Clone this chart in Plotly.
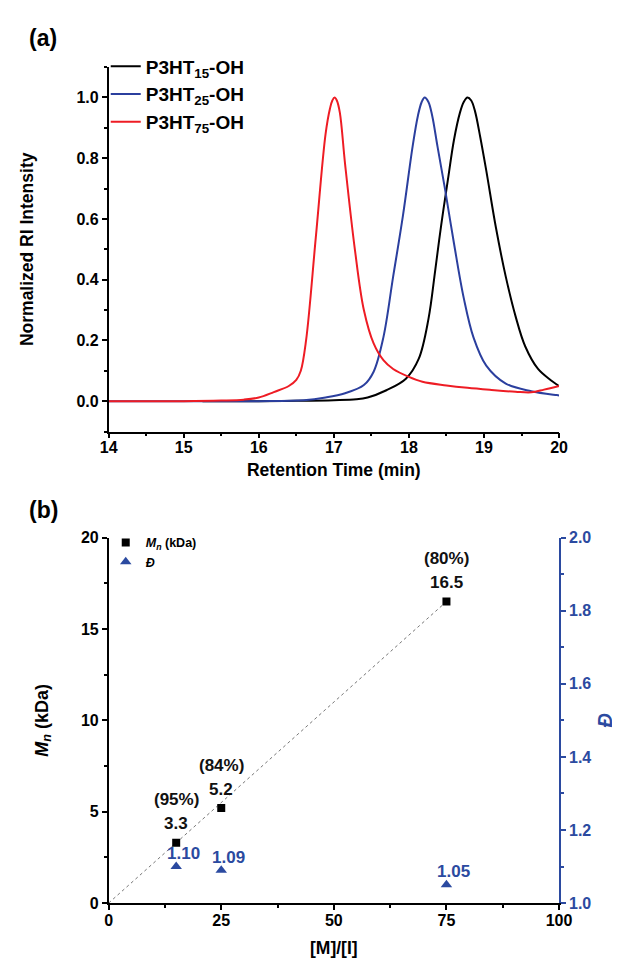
import plotly.graph_objects as go

# ---------------- Panel (a) data: GPC traces ----------------
t15 = [15.25, 16.0, 16.5, 17.0, 17.3, 17.45, 17.70, 17.96, 18.13, 18.26, 18.35, 18.43,
       18.52, 18.60, 18.68, 18.73, 18.78, 18.83, 18.88, 18.95, 19.03, 19.16, 19.29, 19.42,
       19.55, 19.72, 19.89, 19.97, 20.0]
i15 = [0.0, 0.0, 0.001, 0.003, 0.006, 0.012, 0.036, 0.074, 0.139, 0.27, 0.43, 0.58,
       0.73, 0.86, 0.95, 0.985, 1.0, 0.99, 0.955, 0.87, 0.76, 0.57, 0.41, 0.28,
       0.18, 0.106, 0.069, 0.055, 0.05]

t25 = [14.0, 15.0, 16.0, 16.6, 16.89, 17.15, 17.40, 17.53, 17.66, 17.79, 17.92, 18.05,
       18.12, 18.17, 18.21, 18.26, 18.31, 18.38, 18.48, 18.60, 18.73, 18.86, 19.03, 19.29,
       19.63, 19.97, 20.0]
i25 = [0.0, 0.0, 0.0, 0.003, 0.012, 0.026, 0.053, 0.097, 0.21, 0.41, 0.61, 0.84,
       0.94, 0.985, 1.0, 0.985, 0.94, 0.84, 0.70, 0.52, 0.34, 0.21, 0.117, 0.058,
       0.033, 0.02, 0.019]

t75 = [14.0, 15.0, 15.5, 15.8, 16.0, 16.2, 16.4, 16.5, 16.56, 16.63, 16.76, 16.89,
       16.95, 16.98, 17.01, 17.04, 17.08, 17.15, 17.28, 17.40, 17.53, 17.66, 17.79, 18.0,
       18.18, 18.5, 18.78, 19.1, 19.42, 19.63, 19.8, 20.0]
i75 = [0.0, 0.0, 0.002, 0.005, 0.012, 0.03, 0.05, 0.07, 0.1, 0.20, 0.54, 0.88,
       0.965, 0.99, 1.0, 0.99, 0.95, 0.78, 0.50, 0.30, 0.19, 0.135, 0.106, 0.08,
       0.064, 0.052, 0.044, 0.037, 0.031, 0.029, 0.038, 0.05]

names_a = ["<b>P3HT<sub>15</sub>-OH</b>", "<b>P3HT<sub>25</sub>-OH</b>", "<b>P3HT<sub>75</sub>-OH</b>"]
colors_a = ["#000000", "#2b3f9e", "#ee1c24"]

# axis ticks
xa_ticks = [14, 15, 16, 17, 18, 19, 20]
ya_ticks = [0.0, 0.2, 0.4, 0.6, 0.8, 1.0]
xb_ticks = [0, 25, 50, 75, 100]
yb_ticks = [0, 5, 10, 15, 20]
yd_ticks = [1.0, 1.2, 1.4, 1.6, 1.8, 2.0]

# ---------------- Panel (b) data ----------------
ratio = [15, 25, 75]
mn = [3.3, 5.2, 16.5]
conv = ["(95%)", "(84%)", "(80%)"]
disp = [1.10, 1.09, 1.05]
fit_x = [0, 75]
fit_y = [0, 16.5]

BLUE = "#2b4aa0"
FONT = "Arial, Liberation Sans, sans-serif"


def bold(vals, fmt):
    return [f"<b>{fmt.format(v)}</b>" for v in vals]


fig = go.Figure()

for t, i, n, c in zip([t15, t25, t75], [i15, i25, i75], names_a, colors_a):
    fig.add_trace(go.Scatter(x=t, y=i, mode="lines", name=n,
                             line=dict(color=c, width=2, shape="spline", smoothing=1.0),
                             xaxis="x", yaxis="y", legend="legend"))

fig.add_trace(go.Scatter(x=fit_x, y=fit_y, mode="lines", showlegend=False,
                         line=dict(color="#777777", width=1, dash="dot"),
                         xaxis="x2", yaxis="y2"))
fig.add_trace(go.Scatter(x=ratio, y=mn, mode="markers",
                         name="<b><i>M<sub>n</sub></i> (kDa)</b>",
                         marker=dict(symbol="square", size=8, color="black"),
                         xaxis="x2", yaxis="y2", legend="legend2"))
fig.add_trace(go.Scatter(x=ratio, y=disp, mode="markers",
                         name="<b><i>Đ</i></b>",
                         marker=dict(symbol="triangle-up", size=10, color=BLUE),
                         xaxis="x2", yaxis="y3", legend="legend2"))

annotations = []
for xv, yv, pc in zip(ratio, mn, conv):
    annotations.append(dict(x=xv, y=yv, xref="x2", yref="y2", text=f"<b>{yv:.1f}</b>",
                            showarrow=False, yshift=19, font=dict(size=17, color="#111111", family=FONT)))
    annotations.append(dict(x=xv, y=yv, xref="x2", yref="y2", text=f"<b>{pc}</b>",
                            showarrow=False, yshift=43, font=dict(size=17, color="#111111", family=FONT)))
for xv, dv in zip(ratio, disp):
    annotations.append(dict(x=xv, y=dv, xref="x2", yref="y3", text=f"<b>{dv:.2f}</b>",
                            showarrow=False, yshift=13, xshift=7,
                            font=dict(size=17, color=BLUE, family=FONT)))

annotations.append(dict(x=10 / 620, y=1 - 22 / 965, xref="paper", yref="paper", text="<b>(a)</b>",
                        showarrow=False, xanchor="left", yanchor="middle",
                        font=dict(size=23, color="black", family=FONT)))
annotations.append(dict(x=10 / 620, y=1 - 503 / 965, xref="paper", yref="paper", text="<b>(b)</b>",
                        showarrow=False, xanchor="left", yanchor="middle",
                        font=dict(size=23, color="black", family=FONT)))

xd = [95 / 620, 562 / 620]
ya = [1 - 423 / 965, 1 - 52 / 965]
yb = [1 - 903 / 965, 1 - 531 / 965]

tickfont = dict(size=16, color="black", family=FONT)
axis_common = dict(showline=True, linecolor="black", linewidth=1.5, ticks="outside",
                   ticklen=5, tickwidth=1.5, tickcolor="black", showgrid=False,
                   zeroline=False, tickfont=tickfont)

fig.update_layout(
    width=620, height=965,
    margin=dict(l=0, r=0, t=0, b=0),
    paper_bgcolor="white", plot_bgcolor="white",
    font=dict(family=FONT, color="black"),
    annotations=annotations,
    xaxis=dict(domain=xd, anchor="y", range=[14, 20],
               tickvals=xa_ticks, ticktext=bold(xa_ticks, "{}"), ticklabelstandoff=-4,
               minor=dict(ticks="outside", ticklen=3, dtick=0.5, tickcolor="black", tickwidth=1.5),
               title=dict(text="<b>Retention Time (min)</b>", font=dict(size=17.5), standoff=8),
               **axis_common),
    yaxis=dict(domain=ya, anchor="x", range=[-0.1, 1.1],
               tickvals=ya_ticks, ticktext=bold(ya_ticks, "{:.1f}"),
               minor=dict(ticks="outside", ticklen=3, tickvals=[-0.1, 0.1, 0.3, 0.5, 0.7, 0.9, 1.1],
                          tickcolor="black", tickwidth=1.5),
               title=dict(text="<b>Normalized RI Intensity</b>", font=dict(size=17.5), standoff=38),
               **axis_common),
    xaxis2=dict(domain=xd, anchor="y2", range=[0, 100],
                tickvals=xb_ticks, ticktext=bold(xb_ticks, "{}"), ticklabelstandoff=-3,
                minor=dict(ticks="outside", ticklen=3, dtick=12.5, tickcolor="black", tickwidth=1.5),
                title=dict(text="<b>[M]/[I]</b>", font=dict(size=17.5), standoff=14),
                **axis_common),
    yaxis2=dict(domain=yb, anchor="x2", range=[0, 20],
                tickvals=yb_ticks, ticktext=bold(yb_ticks, "{}"),
                minor=dict(ticks="outside", ticklen=3, dtick=2.5, tickcolor="black", tickwidth=1.5),
                title=dict(text="<b><i>M<sub>n</sub></i> (kDa)</b>", font=dict(size=18), standoff=28),
                **axis_common),
    yaxis3=dict(domain=yb, anchor="x2", overlaying="y2", side="right", range=[1.0, 2.0],
                tickvals=yd_ticks, ticktext=bold(yd_ticks, "{:.1f}"),
                showline=True, linecolor=BLUE, linewidth=1.5, ticks="outside", ticklen=5,
                tickwidth=1.5, tickcolor=BLUE, showgrid=False, zeroline=False,
                minor=dict(ticks="outside", ticklen=3, tickvals=[1.1, 1.3, 1.5, 1.7, 1.9],
                           tickcolor=BLUE, tickwidth=1.5),
                tickfont=dict(size=16, color=BLUE, family=FONT),
                title=dict(text="<b><i>Đ</i></b>", font=dict(size=20, color=BLUE), standoff=8)),
    legend=dict(x=92 / 620, y=1 - 32 / 965, xref="paper", yref="paper", xanchor="left", yanchor="top",
                bgcolor="rgba(0,0,0,0)", font=dict(size=19, family=FONT, color="black"),
                tracegroupgap=0),
    legend2=dict(x=92 / 620, y=1 - 521 / 965, xref="paper", yref="paper", xanchor="left",
                 yanchor="top", bgcolor="rgba(0,0,0,0)",
                 font=dict(size=12.5, family=FONT, color="black")),
)

fig.write_html("out.html")
